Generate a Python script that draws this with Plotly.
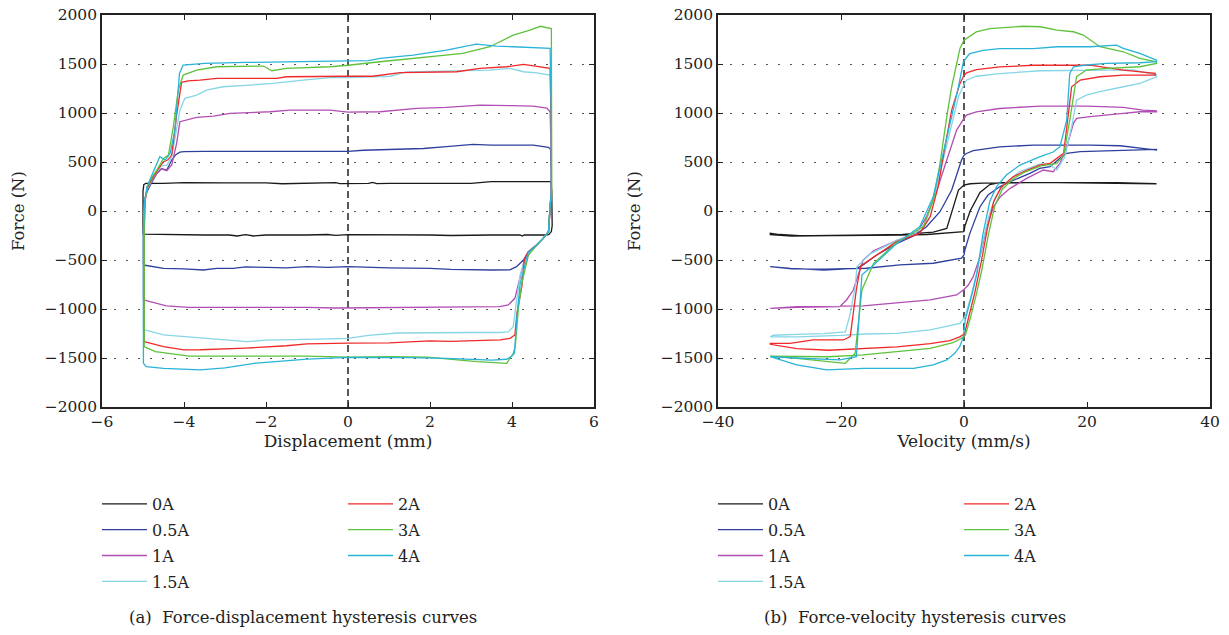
import plotly.graph_objects as go

# ---------------- Data: panel (a) force-displacement -----------------
DISP_0A = [-5.0, -5.0, -4.98, -4.93, -4.5, -4.0, -3.0, -2.0, -1.6, -1.0, -0.4, -0.3, -0.2, 0.0, 0.5, 0.6, 0.7, 1.0, 2.0, 3.0, 3.49, 4.0, 4.5, 4.95, 4.97, 4.98, 4.96, 4.9, 4.85, 4.5, 4.3, 4.25, 4.2, 3.5, 3.0, 2.5, 2.0, 1.0, 0.5, 0.0, -0.3, -0.5, -1.0, -2.0, -2.3, -2.5, -2.7, -2.9, -3.5, -4.0, -4.5, -4.95, -5.0]
FD_0A = [-240, 200, 270, 282, 282, 290, 288, 288, 278, 280, 282, 290, 280, 282, 282, 292, 280, 282, 282, 282, 299, 299, 299, 299, 200, -150, -210, -238, -245, -245, -245, -255, -245, -245, -248, -250, -245, -245, -240, -242, -248, -240, -245, -245, -255, -242, -255, -245, -245, -243, -243, -240, -235]

DISP_05A = [-4.99, -4.99, -4.97, -4.9, -4.8, -4.67, -4.55, -4.42, -4.3, -4.2, -4.1, -4.0, -3.5, -2.5, -1.0, 0.0, 0.37, 1.0, 1.84, 2.4, 3.05, 3.5, 4.0, 4.52, 4.89, 4.94, 4.96, 4.96, 4.93, 4.89, 4.76, 4.6, 4.4, 4.28, 4.11, 3.95, 3.5, 3.05, 2.5, 2.0, 1.5, 1.0, 0.0, -0.5, -1.0, -1.5, -2.0, -2.5, -2.8, -3.2, -3.53, -4.0, -4.5, -4.95, -4.99]
FD_05A = [-551, -300, 100, 200, 280, 380, 432, 418, 520, 575, 600, 605, 608, 608, 608, 608, 620, 625, 638, 656, 680, 672, 672, 672, 650, 629, 400, 150, 60, -211, -279, -347, -415, -500, -568, -600, -602, -602, -595, -585, -585, -580, -568, -575, -568, -580, -575, -570, -585, -585, -602, -590, -585, -551, -551]

DISP_1A = [-4.99, -4.99, -4.96, -4.9, -4.8, -4.67, -4.55, -4.42, -4.3, -4.18, -4.1, -3.69, -3.28, -2.88, -1.9, -1.41, -0.44, 0.0, 0.78, 1.68, 2.4, 3.22, 4.0, 4.52, 4.85, 4.93, 4.96, 4.96, 4.93, 4.89, 4.76, 4.6, 4.45, 4.3, 4.15, 4.07, 3.91, 3.7, 3.0, 2.0, 1.0, 0.0, -0.3, -1.0, -2.0, -3.0, -3.87, -4.43, -4.99]
FD_1A = [-908, -200, 100, 220, 300, 380, 430, 411, 469, 690, 911, 955, 969, 996, 1013, 1030, 1030, 1008, 1013, 1047, 1057, 1081, 1075, 1071, 1050, 1013, 500, 100, 0, -211, -279, -347, -420, -500, -750, -891, -959, -975, -978, -980, -980, -983, -990, -983, -980, -983, -983, -969, -908]

DISP_15A = [-4.99, -4.99, -4.96, -4.9, -4.8, -4.67, -4.55, -4.42, -4.3, -4.18, -4.1, -3.98, -3.69, -3.45, -3.05, -2.4, -1.83, -1.1, -0.44, 0.0, 0.78, 1.03, 1.43, 1.76, 2.5, 3.46, 3.95, 4.28, 4.6, 4.93, 4.96, 4.96, 4.93, 4.89, 4.76, 4.6, 4.45, 4.3, 4.2, 4.1, 4.03, 3.91, 3.7, 3.0, 2.0, 1.2, 0.5, 0.0, -1.0, -2.0, -2.47, -3.0, -3.6, -4.5, -4.95, -4.99]
FD_15A = [-1214, -200, 100, 220, 300, 400, 460, 469, 554, 826, 1030, 1149, 1183, 1234, 1268, 1285, 1302, 1336, 1360, 1362, 1370, 1375, 1419, 1421, 1426, 1438, 1455, 1421, 1410, 1387, 700, 200, 50, -211, -279, -347, -420, -520, -650, -950, -1180, -1234, -1240, -1240, -1240, -1245, -1270, -1300, -1310, -1318, -1333, -1315, -1299, -1265, -1214, -1214]

DISP_2A = [-4.97, -4.97, -4.95, -4.9, -4.8, -4.66, -4.5, -4.4, -4.3, -4.18, -4.06, -3.9, -3.61, -3.2, -1.74, -1.5, 0.0, 0.6, 1.27, 2.65, 3.22, 3.87, 4.28, 4.6, 4.93, 4.96, 4.96, 4.93, 4.89, 4.76, 4.6, 4.4, 4.3, 4.24, 4.12, 4.07, 3.95, 3.71, 3.0, 2.5, 2.0, 1.5, 1.0, 0.0, -1.0, -1.5, -2.5, -3.6, -4.0, -4.5, -4.97]
FD_2A = [-1333, -200, 100, 230, 310, 410, 503, 520, 571, 979, 1313, 1327, 1336, 1353, 1353, 1370, 1375, 1375, 1411, 1421, 1455, 1472, 1496, 1479, 1455, 800, 200, 30, -211, -279, -347, -415, -500, -772, -1044, -1265, -1299, -1316, -1320, -1330, -1325, -1335, -1345, -1348, -1355, -1375, -1399, -1416, -1418, -1384, -1333]

DISP_3A = [-4.97, -4.97, -4.95, -4.9, -4.8, -4.66, -4.5, -4.38, -4.26, -4.14, -4.02, -3.69, -3.2, -2.06, -1.86, -1.5, -0.44, 0.0, 0.78, 1.59, 2.8, 3.46, 4.03, 4.44, 4.69, 4.96, 4.97, 4.97, 4.93, 4.89, 4.76, 4.6, 4.4, 4.24, 4.16, 4.08, 4.03, 3.87, 3.14, 2.74, 1.93, 1.0, 0.0, -1.0, -2.5, -3.87, -4.7, -4.97]
FD_3A = [-1384, -200, 100, 240, 330, 420, 537, 571, 860, 1234, 1387, 1438, 1472, 1479, 1431, 1455, 1472, 1487, 1523, 1557, 1608, 1676, 1795, 1846, 1885, 1861, 1000, 200, 80, -211, -279, -347, -450, -738, -976, -1384, -1452, -1554, -1537, -1520, -1492, -1487, -1491, -1480, -1477, -1480, -1435, -1384]

DISP_4A = [-4.99, -4.99, -4.96, -4.9, -4.8, -4.59, -4.46, -4.34, -4.22, -4.11, -4.02, -3.5, -2.5, -1.5, -0.5, 0.0, 0.5, 0.78, 1.59, 2.4, 3.13, 3.62, 4.03, 4.44, 4.93, 4.96, 4.96, 4.93, 4.89, 4.76, 4.6, 4.4, 4.2, 4.12, 4.06, 4.0, 3.87, 3.5, 3.0, 2.4, 1.5, 0.5, 0.0, -1.0, -2.23, -3.0, -3.6, -4.5, -4.92, -4.99]
FD_4A = [-1554, -200, 100, 250, 350, 554, 520, 588, 826, 1404, 1489, 1506, 1516, 1521, 1521, 1531, 1535, 1557, 1591, 1642, 1703, 1683, 1676, 1669, 1659, 900, 200, 50, -211, -279, -347, -420, -738, -1078, -1452, -1480, -1513, -1522, -1510, -1503, -1496, -1494, -1494, -1511, -1552, -1600, -1622, -1605, -1588, -1554]

# ---------------- Data: panel (b) force-velocity -----------------
VEL_0A = [0, 0.16, 1.0, 2.6, 4.2, 5.8, 10, 15, 20, 25, 28, 31.3, 31.3, 28, 25, 20, 15, 10, 6, 3, 1, 0, -0.9, -2.8, -5, -7.2, -10, -15, -20, -25, -28, -31.5, -31.5, -30, -28, -26.7, -20, -15, -10.4, -6, -3.1, 0]
FV_0A = [-211, -150, 0, 190, 270, 289, 290, 292, 292, 290, 285, 282, 278, 282, 287, 290, 290, 289, 289, 285, 278, 265, 214, -177, -215, -228, -240, -245, -250, -250, -255, -240, -228, -240, -245, -251, -250, -250, -245, -240, -228, -211]

VEL_05A = [0, 0.15, 0.95, 2.6, 3.9, 5.8, 7.5, 10.7, 12.3, 14.0, 15.6, 16.7, 18.9, 25.4, 31.3, 31.3, 28.6, 25.4, 20.5, 11.3, 5.8, 1.5, 0.4, 0, -0.4, -2.0, -3.9, -6.1, -8.2, -10.9, -14.2, -16.4, -17.5, -22.8, -28.2, -31.5, -31.5, -28, -22.4, -15.9, -10.4, -5, -0.4, 0]
FV_05A = [-449, -398, -228, 44, 163, 248, 299, 384, 435, 452, 537, 589, 606, 622, 629, 622, 639, 666, 673, 672, 655, 615, 587, 570, 520, 214, -7, -160, -255, -330, -449, -551, -585, -602, -585, -568, -575, -590, -594, -584, -550, -533, -482, -449]

VEL_1A = [-0.1, 0.7, 1.5, 2.6, 3.7, 4.8, 5.9, 7.5, 10.2, 12.9, 14.5, 15.6, 16.7, 17.8, 18.3, 20.5, 25.9, 28.6, 31.3, 31.3, 29.1, 25.9, 20, 12.4, 5.8, 2.0, 0.4, 0, -1.2, -2.8, -4.4, -6.1, -7.7, -10.9, -14.7, -16.4, -18, -19.1, -20.2, -27.2, -31.5, -31.5, -27.2, -16.4, -10.9, -5.5, -1.2, -0.1]
FV_1A = [-806, -755, -670, -466, -160, 44, 146, 231, 333, 418, 401, 486, 656, 894, 945, 962, 996, 1013, 1013, 1023, 1030, 1057, 1071, 1071, 1046, 1012, 978, 944, 826, 520, 214, -58, -228, -300, -405, -500, -806, -908, -976, -983, -994, -990, -976, -969, -942, -908, -857, -806]

VEL_15A = [0.16, 1.0, 2.0, 3.0, 4.0, 5.0, 6.5, 9.0, 12.4, 14.0, 15.1, 16.4, 17.5, 18.3, 19.9, 22.1, 25.9, 28.6, 31.3, 31.3, 27.5, 20, 12.4, 5.8, 2.0, 0.4, 0, -0.9, -2.0, -3.4, -4.8, -6.3, -8, -10.9, -15.3, -17.4, -17.7, -18.5, -19.3, -22.8, -27.2, -31, -31.5, -27, -20, -16, -10.9, -5.5, -0.65, 0.16]
FV_15A = [-1078, -900, -650, -330, -60, 130, 270, 400, 480, 470, 418, 554, 860, 1132, 1183, 1217, 1268, 1302, 1370, 1387, 1440, 1435, 1431, 1402, 1375, 1334, 1290, 1166, 894, 520, 146, -126, -230, -300, -440, -568, -772, -1050, -1234, -1251, -1258, -1268, -1285, -1285, -1270, -1255, -1248, -1214, -1146, -1078]

VEL_2A = [0.1, 0.8, 1.8, 2.8, 3.8, 4.8, 6.0, 8.0, 10, 12.4, 14, 16.2, 17, 17.5, 18.9, 22.1, 25.9, 29.7, 31.1, 31.1, 28.6, 25.9, 20.5, 15, 11.3, 5.8, 2.0, 0.4, 0, -0.65, -2.0, -3.1, -4.2, -5.5, -7.2, -10.9, -15.3, -16.8, -17.5, -18.5, -19.6, -24.5, -28.3, -31.5, -31.5, -27.2, -22, -10.9, -5.5, -2.3, -0.6, 0.1]
FV_2A = [-1250, -1080, -820, -520, -180, 90, 240, 350, 410, 470, 486, 588, 996, 1268, 1336, 1370, 1387, 1387, 1387, 1404, 1421, 1438, 1489, 1489, 1487, 1470, 1443, 1409, 1385, 1302, 1030, 656, 248, -58, -228, -310, -500, -560, -800, -1282, -1316, -1316, -1350, -1350, -1360, -1404, -1421, -1387, -1353, -1323, -1282, -1250]

VEL_3A = [0.2, 1.0, 2.0, 2.9, 4.0, 5.0, 6.2, 8.0, 10, 12.5, 15.1, 16.2, 17.2, 18.3, 19.9, 23.2, 28.6, 30.2, 31.3, 31.3, 28.6, 25.9, 22.1, 19.4, 17.8, 15.1, 12.4, 9.6, 4.2, 2.0, 0.4, 0, -0.65, -2.0, -2.8, -3.9, -5.0, -6.6, -10.9, -14.7, -16.6, -17.7, -19.3, -21.7, -27.2, -31.5, -31.5, -22, -16.4, -10.9, -5.5, -1.8, -0.4, 0.2]
FV_3A = [-1270, -1100, -850, -602, -230, 50, 220, 330, 400, 460, 486, 571, 928, 1370, 1438, 1455, 1472, 1489, 1506, 1523, 1557, 1625, 1676, 1795, 1829, 1846, 1880, 1885, 1861, 1827, 1759, 1742, 1659, 1268, 962, 486, 112, -160, -320, -534, -806, -1452, -1554, -1537, -1503, -1480, -1480, -1487, -1469, -1435, -1401, -1343, -1299, -1270]

VEL_4A = [0.2, 0.7, 1.5, 2.1, 3.1, 4.2, 5.3, 6.9, 9.1, 12.4, 14.5, 15.6, 16.7, 17.2, 17.8, 20, 23.2, 28.6, 31.3, 31.3, 28.6, 25.9, 24.8, 20.5, 15.1, 11.3, 5.8, 3.1, 0.95, 0.7, -0.1, -0.9, -2.0, -3.4, -5.0, -7.2, -10.9, -14.7, -16.6, -17.5, -20.2, -27.2, -31.5, -31.5, -27.2, -22.3, -16.4, -8.2, -5.0, -2.8, -1.5, -0.7, -0.1, 0.2]
FV_4A = [-1112, -1000, -800, -636, -228, 100, 248, 367, 469, 554, 602, 656, 928, 1404, 1472, 1490, 1506, 1513, 1523, 1540, 1608, 1659, 1693, 1676, 1676, 1657, 1657, 1640, 1606, 1589, 1523, 1268, 962, 589, 146, -160, -330, -551, -650, -1486, -1520, -1500, -1486, -1486, -1571, -1622, -1605, -1605, -1571, -1520, -1452, -1384, -1282, -1112]

LABELS = ["0A", "0.5A", "1A", "1.5A", "2A", "3A", "4A"]
COLORS = ["#1a1a1a", "#2e3f9e", "#b14db4", "#86d6e6", "#f02a2a", "#5fc23c", "#2ab3d8"]
DISP = [DISP_0A, DISP_05A, DISP_1A, DISP_15A, DISP_2A, DISP_3A, DISP_4A]
FDISP = [FD_0A, FD_05A, FD_1A, FD_15A, FD_2A, FD_3A, FD_4A]
VEL = [VEL_0A, VEL_05A, VEL_1A, VEL_15A, VEL_2A, VEL_3A, VEL_4A]
FVEL = [FV_0A, FV_05A, FV_1A, FV_15A, FV_2A, FV_3A, FV_4A]

X_TICKS_A = [-6, -4, -2, 0, 2, 4, 6]
X_TICKS_B = [-40, -20, 0, 20, 40]
Y_TICKS = [-2000, -1500, -1000, -500, 0, 500, 1000, 1500, 2000]

FONT = "DejaVu Serif"
TXT = "#222"
W, H = 1229, 635

fig = go.Figure()
for i, lab in enumerate(LABELS):
    leg_a = "legend" if i < 4 else "legend2"
    leg_b = "legend3" if i < 4 else "legend4"
    fig.add_trace(go.Scatter(x=DISP[i], y=FDISP[i], mode="lines", name=lab,
                             line=dict(color=COLORS[i], width=1.3),
                             xaxis="x", yaxis="y", legend=leg_a, legendgroup="a" + lab))
    fig.add_trace(go.Scatter(x=VEL[i], y=FVEL[i], mode="lines", name=lab,
                             line=dict(color=COLORS[i], width=1.3),
                             xaxis="x2", yaxis="y2", legend=leg_b, legendgroup="b" + lab))

ydom = [1 - 407 / H, 1 - 15 / H]
axis_common = dict(showline=True, linecolor="#222", linewidth=1.6, mirror="ticks",
                   ticks="inside", ticklen=5, tickcolor="#222", tickwidth=1, automargin=False,
                   tickfont=dict(family=FONT, size=15.5, color=TXT), zeroline=False)
yaxis_common = dict(axis_common, range=[-2000, 2000], tickvals=Y_TICKS,
                    showgrid=True, gridcolor="#555", gridwidth=1.3, griddash="2px,10px",
                    title=dict(text="Force (N)", font=dict(family=FONT, size=16.5, color=TXT), standoff=16))

fig.update_layout(
    width=W, height=H, margin=dict(l=0, r=0, t=0, b=0, autoexpand=False),
    paper_bgcolor="white", plot_bgcolor="white",
    xaxis=dict(axis_common, domain=[102 / W, 594 / W], range=[-6, 6], tickvals=X_TICKS_A,
               showgrid=False, anchor="y",
               title=dict(text="Displacement (mm)", font=dict(family=FONT, size=17, color=TXT), standoff=1)),
    yaxis=dict(yaxis_common, domain=ydom, anchor="x"),
    xaxis2=dict(axis_common, domain=[718 / W, 1210 / W], range=[-40, 40], tickvals=X_TICKS_B,
                showgrid=False, anchor="y2",
                title=dict(text="Velocity (mm/s)", font=dict(family=FONT, size=17, color=TXT), standoff=1)),
    yaxis2=dict(yaxis_common, domain=ydom, anchor="x2"),
    showlegend=True,
)

leg_common = dict(font=dict(family=FONT, size=16, color=TXT), bgcolor="rgba(0,0,0,0)",
                  xanchor="left", yanchor="top", itemwidth=45, tracegroupgap=2,
                  orientation="v", itemclick=False, itemdoubleclick=False)
LEG_TOP = 1 - 487 / H
fig.update_layout(
    legend=dict(leg_common, x=97 / W, y=LEG_TOP),
    legend2=dict(leg_common, x=343 / W, y=LEG_TOP),
    legend3=dict(leg_common, x=713 / W, y=LEG_TOP),
    legend4=dict(leg_common, x=959 / W, y=LEG_TOP),
)

for xr in ["x", "x2"]:
    yr = "y domain" if xr == "x" else "y2 domain"
    fig.add_shape(type="line", xref=xr, yref=yr, x0=0, x1=0, y0=0, y1=1,
                  line=dict(color="#222", width=1.5, dash="7px,4px"), layer="below")

fig.add_annotation(text="(a)  Force-displacement hysteresis curves", xref="paper", yref="paper",
                   x=303 / W, y=1 - 617 / H, showarrow=False, xanchor="center", yanchor="middle",
                   font=dict(family=FONT, size=16.5, color=TXT))
fig.add_annotation(text="(b)  Force-velocity hysteresis curves", xref="paper", yref="paper",
                   x=915 / W, y=1 - 617 / H, showarrow=False, xanchor="center", yanchor="middle",
                   font=dict(family=FONT, size=16.5, color=TXT))

fig.write_html("out.html", config={"displayModeBar": False},
               post_script="document.body.style.margin='0';document.body.style.overflow='hidden';")
